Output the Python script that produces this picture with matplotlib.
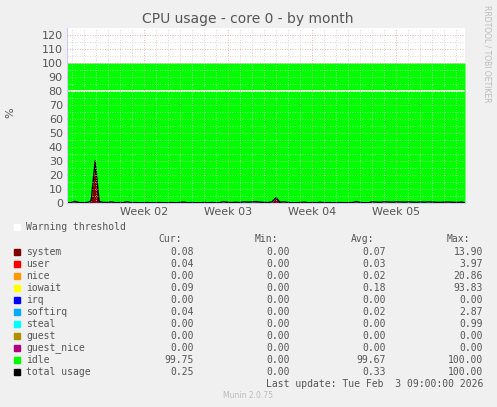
import matplotlib
matplotlib.use("Agg")
import matplotlib.pyplot as plt
import numpy as np

title = "CPU usage - core 0 - by month"
week_labels = ["Week 02", "Week 03", "Week 04", "Week 05"]
week_pos = [6.42, 13.42, 20.42, 27.42]
days_span = 33.2
total_usage = [0.3, 0.2, 1.2, 0.3, 0.2, 0.3, 1.5, 30.0, 1.2, 0.4, 0.3, 0.8, 0.2, 0.3, 0.2, 0.9,
               0.2, 0.3, 0.2, 0.2, 0.3, 0.2, 0.2, 0.3, 0.2, 0.2, 0.3, 0.2, 0.3, 0.6,
               0.2, 0.3, 0.2, 0.2, 0.3, 0.2, 0.3, 0.2, 0.2, 1.0, 0.4, 0.3, 0.5, 0.3, 0.8,
               0.6, 0.7, 1.0, 0.6, 0.4, 0.3, 0.8, 3.8, 0.5, 0.8, 0.3, 0.2, 0.2, 0.3, 0.6,
               0.2, 0.3, 0.2, 0.5, 0.2, 0.3, 0.2, 0.2, 0.3, 0.2, 0.2, 0.3, 1.0, 0.3, 0.2,
               0.2, 0.8, 0.6, 0.5, 0.9, 0.7, 0.6, 0.8, 0.7, 0.6, 0.8, 0.6, 0.5, 0.7, 0.6,
               0.8, 0.6, 0.5, 0.4, 0.6, 0.7, 0.5, 0.4, 0.6, 0.3]
legend_names = ["system", "user", "nice", "iowait", "irq", "softirq", "steal", "guest", "guest_nice", "idle", "total usage"]
legend_colors = ["#7f0000", "#ff0000", "#ff9900", "#ffff00", "#0000ff", "#00aaff", "#00ffff", "#b09000", "#b0007f", "#00ff00", "#000000"]
cur = ["0.08", "0.04", "0.00", "0.09", "0.00", "0.04", "0.00", "0.00", "0.00", "99.75", "0.25"]
mins = ["0.00"] * 11
avg = ["0.07", "0.03", "0.02", "0.18", "0.00", "0.02", "0.00", "0.00", "0.00", "99.67", "0.33"]
mx = ["13.90", "3.97", "20.86", "93.83", "0.00", "2.87", "0.99", "0.00", "0.00", "100.00", "100.00"]

W, H = 497, 407
fig = plt.figure(figsize=(W/100, H/100), dpi=100, facecolor="#f0f0f0")
ax = fig.add_axes([67/W, 1-203/H, 398/W, 175/H])
ax.set_facecolor("white")
x = np.linspace(0, days_span, len(total_usage))
t = np.array(total_usage)
ax.fill_between(x, 0, t, color="#7f0000", lw=0)
ax.fill_between(x, t, 100, color="#00ff00", lw=0)
ax.plot(x, t, color="black", lw=1)
ax.axhline(80, color="white", lw=1.2)
ax.set_xlim(0, days_span)
ax.set_ylim(0, 125)
ax.set_yticks(range(0, 121, 10))
ax.set_xticks(week_pos)
ax.set_xticklabels(week_labels)
ax.set_xticks(np.arange(0.42, days_span, 1), minor=True)
ax.set_yticks(range(5, 125, 10), minor=True)
ax.grid(True, which="minor", color="#cccccc", ls=(0, (1, 2)), lw=0.6)
ax.grid(True, which="major", color="#e0a0a0", ls=(0, (1, 2)), lw=0.6)
ax.set_axisbelow(False)
ax.tick_params(which="both", length=0, labelsize=8, colors="#555555", pad=3)
for s in ["top", "right"]:
    ax.spines[s].set_visible(False)
ax.spines["left"].set_color("#ccccff")
ax.spines["bottom"].set_color("#ccccff")
fig.text(248/W, 1-19/H, title, ha="center", va="center", fontsize=10, color="#555555")
fig.text(10/W, 1-113/H, "%", rotation=90, ha="center", va="center", fontsize=8, color="#555555")
fig.text(487/W, 1-5/H, "RRDTOOL / TOBI OETIKER", rotation=270, ha="center", va="top", fontsize=5.5, color="#bbbbbb")

mono = dict(family="DejaVu Sans Mono", fontsize=7, color="#555555", va="center")
def fy(py): return 1 - py/H
fig.patches.append(plt.Rectangle((14/W, fy(230)), 6/W, 6/H, transform=fig.transFigure, color="white"))
fig.text(26/W, fy(227), "Warning threshold", **mono)
for lab, rx in zip(["Cur:", "Min:", "Avg:", "Max:"], [182, 278, 374, 470]):
    fig.text(rx/W, fy(239), lab, ha="right", **mono)
for i, n in enumerate(legend_names):
    yy = 251.7 + 12*i
    fig.patches.append(plt.Rectangle((14/W, fy(yy+3)), 6/W, 6/H, transform=fig.transFigure, color=legend_colors[i]))
    fig.text(26/W, fy(yy), n, **mono)
    for val, rx in zip([cur[i], mins[i], avg[i], mx[i]], [194, 290, 386, 483]):
        fig.text(rx/W, fy(yy), val, ha="right", **mono)
fig.text(483/W, fy(384), "Last update: Tue Feb  3 09:00:00 2026", ha="right", **mono)
fig.text(248/W, fy(396), "Munin 2.0.75", ha="center", va="center", fontsize=5.5, color="#bbbbbb")
fig.savefig("out.png", dpi=100, facecolor=fig.get_facecolor())
